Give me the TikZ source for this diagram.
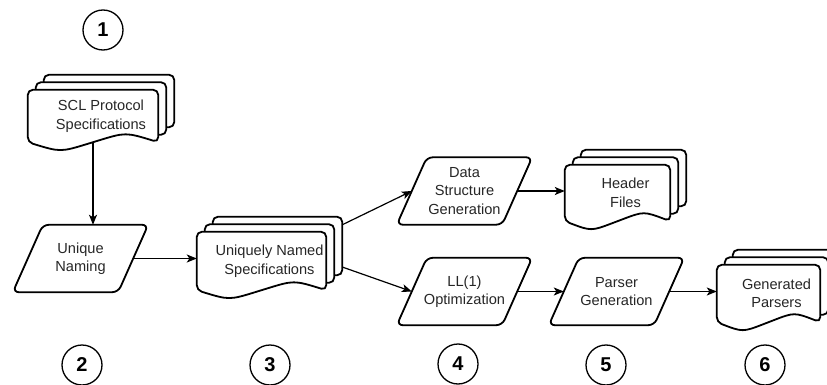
\documentclass[tikz,border=0pt]{standalone}
\usepackage{fontspec}
\setmainfont{Liberation Sans}
\usetikzlibrary{arrows.meta,calc}

\tikzset{
  boxtext/.style={font=\fontsize{14.6}{18.5}\selectfont, text=black!85},
  docs/.style={boxtext, align=center, inner sep=0pt},
  slant/.style={boxtext, align=center, inner sep=0pt, minimum width=105pt, minimum height=67pt},
  page/.style={line width=1.8pt, rounded corners=5pt},
  stepnum/.style={circle, draw, line width=1.3pt, minimum size=40pt, inner sep=0pt, font=\fontsize{20}{20}\selectfont\bfseries},
  flow/.style={line width=1.2pt, -{Stealth[length=10pt,width=8pt,inset=2.5pt]}}
}

% stack of three pages round a docs node (back pages first, then the wavy front one)
\newcommand{\drawdocs}[1]{%
  \foreach \k in {1,2}
    \draw[page] let \p1=(#1.north west), \p2=(#1.south east) in
      (\x1+\k*8pt, \y1+\k*7.5pt-7.5pt) -- (\x1+\k*8pt, \y1+\k*7.5pt)
      -- (\x2-16pt+\k*8pt, \y1+\k*7.5pt) -- (\x2-16pt+\k*8pt, \y2+\k*7.5pt)
      -- (\x2-24pt+\k*8pt, \y2+\k*7.5pt);
  \draw[page] let \p1=(#1.north west), \p2=(#1.south east), \n1={(\x2-16pt-\x1)/4} in
    (\x1,\y2+10pt) -- (\x1,\y1) -- (\x2-16pt,\y1) -- (\x2-16pt,\y2)
    .. controls (\x2-16pt-\n1,\y2+10pt) .. (\x2-16pt-2*\n1,\y2)
    .. controls (\x1+\n1,\y2-10pt) .. (\x1,\y2) -- cycle;
}

% parallelogram round a slant node
\newcommand{\drawslant}[1]{%
  \draw[page, rounded corners=6pt] ([xshift=-15pt]#1.south west) -- ([xshift=15pt]#1.north west)
    -- ([xshift=15pt]#1.north east) -- ([xshift=-15pt]#1.south east) -- cycle;
}

\begin{document}
\begin{tikzpicture}[x=1pt,y=-1pt]
    \useasboundingbox (0,0) rectangle (827,385);

    % documents
    \node[docs, minimum width=146pt, minimum height=52pt] (scl) at (101,116) {SCL Protocol\\Specifications};
    \node[docs, minimum width=145pt, minimum height=58pt] (uniq) at (269.5,261) {Uniquely Named\\Specifications};
    \node[docs, minimum width=121pt, minimum height=56pt] (header) at (625.5,193) {Header\\Files};
    \node[docs, minimum width=119pt, minimum height=57pt] (gen) at (776.5,293.5) {Generated\\Parsers};
    \drawdocs{scl}
    \drawdocs{uniq}
    \drawdocs{header}
    \drawdocs{gen}

    % processing steps
    \node[slant] (naming) at (80.5,258.5) {Unique\\Naming};
    \node[slant] (ds) at (464.5,191) {Data\\Structure\\Generation};
    \node[slant] (ll) at (464.5,291.5) {LL(1)\\Optimization};
    \node[slant] (parser) at (616.5,291.5) {Parser\\Generation};
    \drawslant{naming}
    \drawslant{ds}
    \drawslant{ll}
    \drawslant{parser}

    % stage numbers
    \foreach \n/\cx/\cy in {1/103/30, 2/82/365, 3/270/365, 4/458/364, 5/606/365, 6/765/365}
        \node[stepnum] (step\n) at (\cx,\cy) {\n};

    % connectors
    \coordinate (scl-out) at ([xshift=-8pt]scl.south);
    \draw[flow] (scl-out) -- (scl-out |- naming.north);
    \draw[flow] (naming.east) -- (naming.east -| uniq.west);
    \draw[flow] ([yshift=7pt]uniq.north east) -- (ds.west);
    \draw[flow] ([yshift=-6pt]uniq.east) -- (ll.west);
    \draw[flow] (ds.east) -- (ds.east -| header.west);
    \draw[flow] (ll.east) -- (parser.west);
    \draw[flow] (parser.east) -- (parser.east -| gen.west);
\end{tikzpicture}
\end{document}
